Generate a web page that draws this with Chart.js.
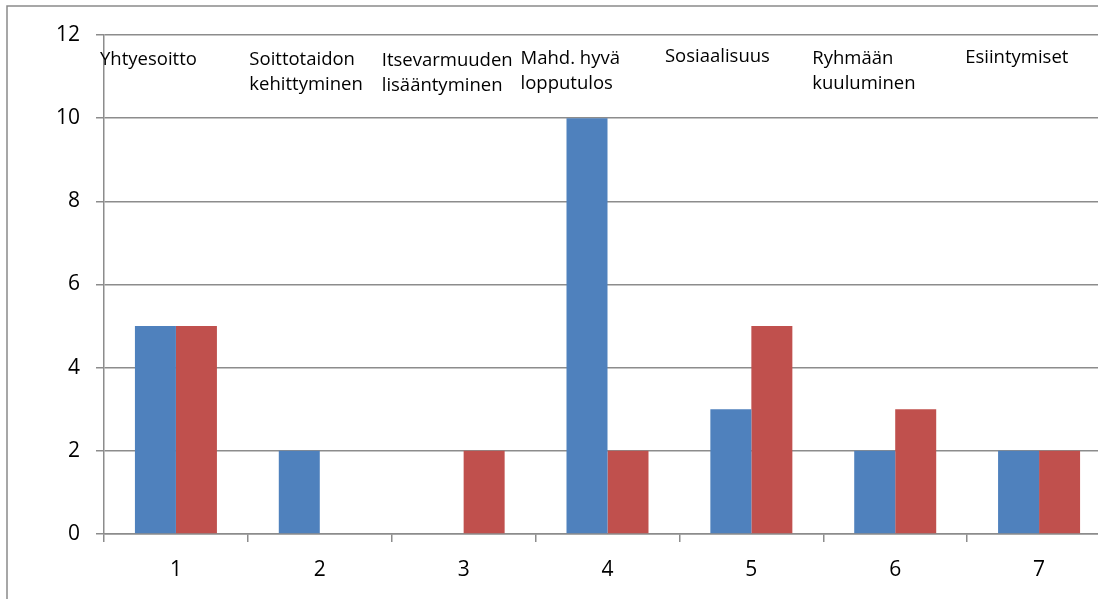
<!DOCTYPE html>
<html>
<head>
<meta charset="utf-8">
<script src="https://cdn.jsdelivr.net/npm/chart.js@4.4.1/dist/chart.umd.min.js"></script>
<style>
html,body{margin:0;padding:0;background:#fff;overflow:hidden;}
#wrap{position:absolute;left:0;top:0;width:1130px;height:599px;}
</style>
</head>
<body>
<div id="wrap"><canvas id="c" width="1130" height="599"></canvas></div>
<script>
// ---- data ----
const categories = ['1','2','3','4','5','6','7'];
const seriesBlue = [5, 2, 0, 10, 3, 2, 2];
const seriesRed  = [5, 0, 2, 2, 5, 3, 2];
const yTicks = [0, 2, 4, 6, 8, 10, 12];
const noteLabels = [
  ['Yhtyesoitto'],
  ['Soittotaidon', 'kehittyminen'],
  ['Itsevarmuuden', 'lisääntyminen'],
  ['Mahd. hyvä', 'lopputulos'],
  ['Sosiaalisuus'],
  ['Ryhmään', 'kuuluminen'],
  ['Esiintymiset']
];

// ---- styling / placement (not data) ----
const noteDX = [-4, 1.5, -10, -15, -14.5, -11, -2];
const noteBaseline = [65, 65, 66, 64, 62, 64, 63];
const noteLineH = 25;
const FONT = '"Open Sans", Lato, sans-serif';
const GRID = '#8c8c8c';

const notesPlugin = {
  id: 'notes',
  beforeDraw(chart) {
    const ctx = chart.ctx;
    ctx.save();
    ctx.strokeStyle = '#8a8a8a';
    ctx.lineWidth = 1.5;
    ctx.beginPath();
    ctx.moveTo(7, chart.height + 5);
    ctx.lineTo(7, 6);
    ctx.lineTo(chart.width + 5, 6);
    ctx.stroke();
    ctx.restore();
  },
  afterDraw(chart) {
    const ctx = chart.ctx;
    const xs = chart.scales.x;
    const catW = xs.width / categories.length;
    ctx.save();
    ctx.fillStyle = '#000';
    ctx.font = '18.5px ' + FONT;
    ctx.textAlign = 'left';
    ctx.textBaseline = 'alphabetic';
    noteLabels.forEach((lines, i) => {
      const x = xs.getPixelForValue(i) - catW / 2 + noteDX[i];
      lines.forEach((t, j) => {
        ctx.fillText(t, x, noteBaseline[i] + j * noteLineH);
      });
    });
    ctx.restore();
  }
};

new Chart(document.getElementById('c'), {
  type: 'bar',
  data: {
    labels: categories,
    datasets: [
      { data: seriesBlue, backgroundColor: '#4F81BD', borderWidth: 0 },
      { data: seriesRed, backgroundColor: '#C0504D', borderWidth: 0 }
    ]
  },
  options: {
    responsive: false,
    animation: false,
    devicePixelRatio: 1,
    layout: { padding: { left: 0, right: 19, top: 35, bottom: 0 } },
    plugins: { legend: { display: false }, tooltip: { enabled: false } },
    datasets: { bar: { categoryPercentage: 0.57, barPercentage: 1.0 } },
    scales: {
      x: {
        offset: true,
        grid: { display: true, drawOnChartArea: false, drawTicks: true, tickLength: 8, color: GRID, lineWidth: 1.5, offset: true },
        border: { display: true, color: GRID, width: 1.5 },
        ticks: { color: '#000', font: { family: FONT, size: 21 }, padding: 15, maxRotation: 0 },
        afterFit(s) { s.height = 65; }
      },
      y: {
        min: 0, max: 12,
        afterBuildTicks(s) { s.ticks = yTicks.map(v => ({ value: v })); },
        grid: { color: GRID, lineWidth: 1.5, drawTicks: true, tickLength: 8 },
        border: { display: true, color: GRID, width: 1.5 },
        ticks: { color: '#000', font: { family: FONT, size: 21 }, padding: 16 },
        afterFit(s) { s.width = 104; }
      }
    }
  },
  plugins: [notesPlugin]
});
</script>
</body>
</html>
